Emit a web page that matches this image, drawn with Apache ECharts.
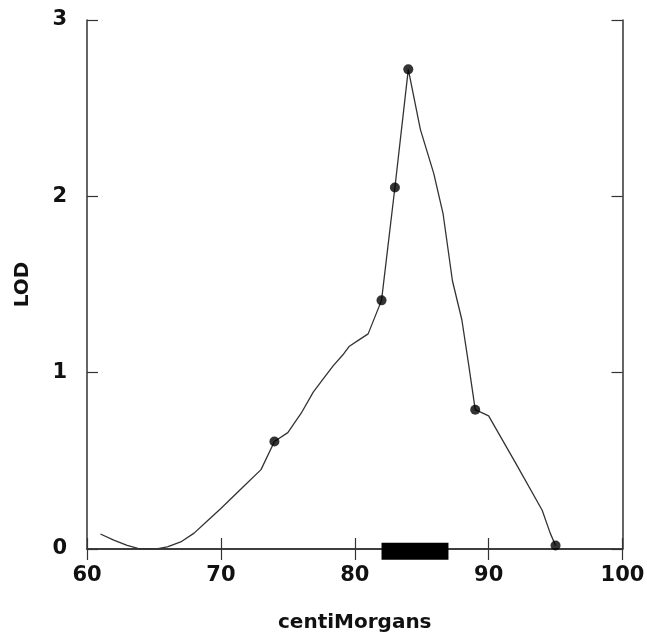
<!DOCTYPE html>
<html>
<head>
<meta charset="utf-8">
<script src="https://cdn.jsdelivr.net/npm/echarts@6/dist/echarts.min.js"></script>
<style>
  html, body { margin: 0; padding: 0; background: #fff; }
  #chart { width: 647px; height: 632px; }
</style>
</head>
<body>
<div id="chart"></div>
<script>
// LOD curve (x in cM, y in LOD)
const curveX = [61, 62, 63, 63.8, 64.5, 65.3, 66, 67, 68, 69, 70, 71.5, 73, 74, 75, 76, 76.9, 77.7, 78.4, 79.1, 79.6, 80.4, 81, 82, 83, 84, 84.9, 85.9, 86.6, 87.3, 88, 88.5, 89, 90, 92, 94, 94.6, 95]
const curveY = [0.085, 0.05, 0.02, 0.003, 0, 0.002, 0.012, 0.04, 0.09, 0.16, 0.23, 0.34, 0.45, 0.61, 0.66, 0.77, 0.89, 0.97, 1.04, 1.1, 1.15, 1.19, 1.22, 1.41, 2.05, 2.72, 2.38, 2.13, 1.90, 1.52, 1.30, 1.05, 0.79, 0.755, 0.49, 0.22, 0.09, 0.02]
// marker positions
const markerX = [74, 82, 83, 84, 89, 95]
const markerY = [0.61, 1.41, 2.05, 2.72, 0.79, 0.02]
// black interval bar along the x axis
const barX = [82, 87]
const barY = -0.013
const xTicks = [60, 70, 80, 90, 100]
const yTicks = [0, 1, 2, 3]

const fontFamily = 'DejaVu Sans, sans-serif'
const frame = { show: true, lineStyle: { color: '#333', width: 1.5 } }
const tick = { show: true, inside: true, length: 11, lineStyle: { color: '#333', width: 1.2 } }

let chart = echarts.init(document.getElementById('chart'))
chart.setOption({
  animation: false,
  grid: { left: 87, right: 24.5, top: 20, bottom: 83, outerBoundsMode: 'none', containLabel: false },
  xAxis: [
    {
      type: 'value', min: 60, max: 100, interval: 10,
      position: 'bottom',
      name: 'centiMorgans', nameLocation: 'middle', nameGap: 64,
      nameTextStyle: { fontFamily: fontFamily, fontWeight: 'bold', fontSize: 20, color: '#111' },
      axisLine: frame,
      axisTick: tick,
      splitLine: { show: false },
      axisLabel: { margin: 16, fontFamily: fontFamily, fontWeight: 'bold', fontSize: 21, color: '#111',
        formatter: v => xTicks.includes(v) ? String(v) : '' }
    },
    {
      type: 'value', min: 60, max: 100, interval: 10,
      position: 'top',
      axisLine: frame, axisTick: tick, axisLabel: { show: false }, splitLine: { show: false }
    }
  ],
  yAxis: [
    {
      type: 'value', min: 0, max: 3, interval: 1,
      position: 'left',
      name: 'LOD', nameLocation: 'middle', nameGap: 54,
      nameTextStyle: { fontFamily: fontFamily, fontWeight: 'bold', fontSize: 20, color: '#111' },
      axisLine: frame,
      axisTick: tick,
      splitLine: { show: false },
      axisLabel: { margin: 20, fontFamily: fontFamily, fontWeight: 'bold', fontSize: 21, color: '#111',
        formatter: v => yTicks.includes(v) ? String(v) : '' }
    },
    {
      type: 'value', min: 0, max: 3, interval: 1,
      position: 'right',
      axisLine: frame, axisTick: tick, axisLabel: { show: false }, splitLine: { show: false }
    }
  ],
  series: [
    {
      type: 'line',
      data: curveX.map((x, i) => [x, curveY[i]]),
      showSymbol: false,
      lineStyle: { color: '#333', width: 1.3 },
      z: 3
    },
    {
      type: 'scatter',
      data: markerX.map((x, i) => [x, markerY[i]]),
      symbolSize: 10,
      itemStyle: { color: '#000' },
      z: 4
    },
    {
      type: 'line',
      data: barX.map(x => [x, barY]),
      showSymbol: false,
      clip: false,
      lineStyle: { color: '#000', width: 17, cap: 'butt' },
      z: 5
    }
  ]
})
</script>
</body>
</html>
